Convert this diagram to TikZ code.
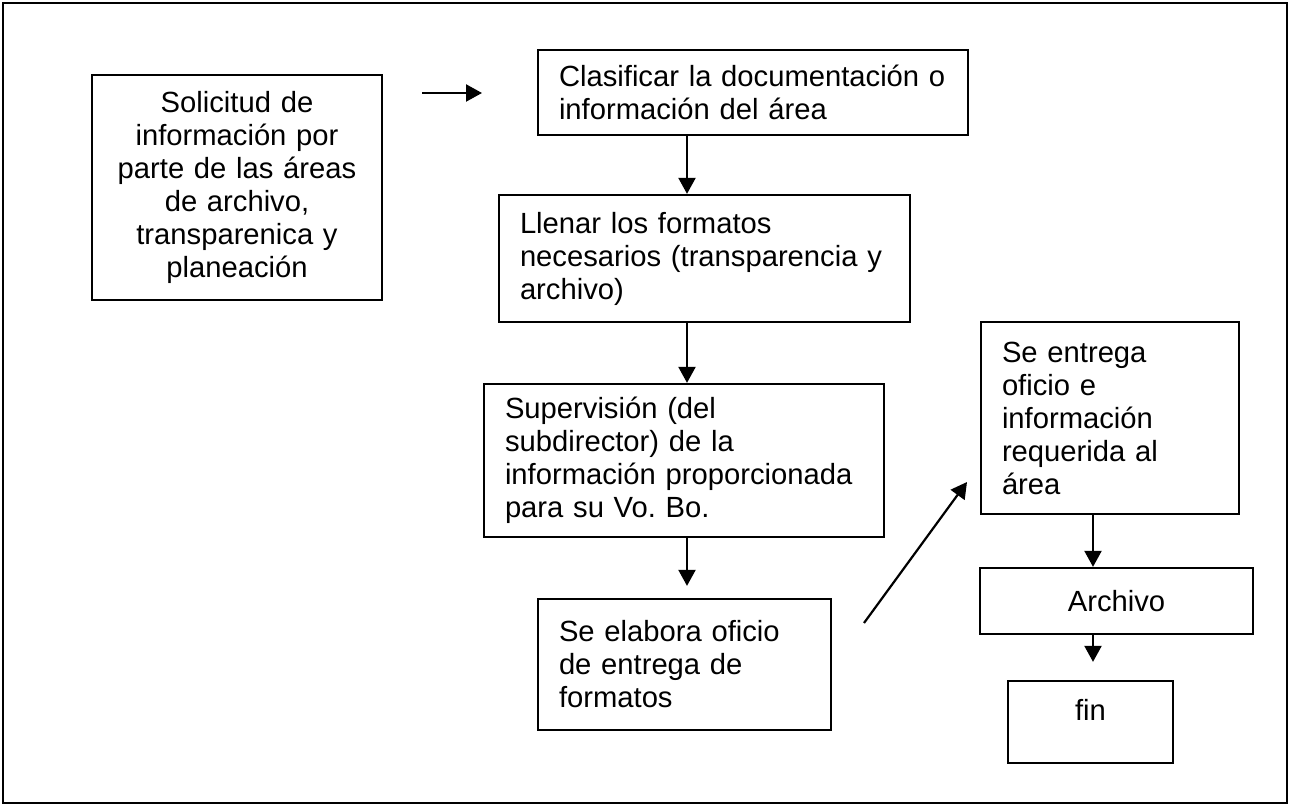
\documentclass[tikz,border=0pt]{standalone}
\usepackage{fontspec}
\setmainfont{Liberation Sans}
\usetikzlibrary{arrows.meta}
\begin{document}
\frenchspacing
\begin{tikzpicture}[x=0.5pt,y=-0.5pt,
  box/.style={draw=black, line width=1.15pt, inner sep=0pt, font=\fontsize{14.6pt}{16.5pt}\selectfont},
  arr/.style={line width=1.1pt, -{Triangle[length=8pt,width=8.5pt]}},
]
\useasboundingbox (0,0) rectangle (1290,806);
\node[draw, line width=1.4pt, minimum width=642pt, minimum height=400pt, inner sep=0pt] (frame) at (645,403) {};

\node[box, minimum width=145pt, minimum height=112.5pt, text width=136pt, align=center] (b1) at (237,187.5)
  {Solicitud de\\ información por\\ parte de las áreas\\ de archivo,\\ transparenica y\\ planeación};
\node[box, minimum width=215pt, minimum height=42.5pt, text width=194pt, align=left] (b2) at (753,92.5)
  {Clasificar la documentación o\\ información del área};
\node[box, minimum width=205.5pt, minimum height=63.5pt, text width=184.5pt, align=left] (b3) at (704.5,258.5)
  {Llenar los formatos\\ necesarios (transparencia y\\ archivo)};
\node[box, minimum width=200pt, minimum height=76.5pt, text width=179pt, align=left] (b4) at (684,460.5)
  {Supervisión (del\\ subdirector) de la\\ información proporcionada\\ para su Vo. Bo.};
\node[box, minimum width=146.5pt, minimum height=65.5pt, text width=125.5pt, align=left] (b5) at (684.5,664.5)
  {Se elabora oficio\\ de entrega de\\ formatos};
\node[box, minimum width=129pt, minimum height=96pt, text width=108pt, align=left] (b6) at (1110,418)
  {Se entrega\\ oficio e\\ información\\ requerida al\\ área};
\node[box, minimum width=136.5pt, minimum height=33pt, align=center] (b7) at (1116.5,601) {Archivo};
\node[box, minimum width=82.5pt, minimum height=41pt, align=center] (b8) at (1090.5,722) {fin\\[-4pt] \mbox{}};

\coordinate (colA) at (687,0);
\coordinate (colB) at (1093,0);
\coordinate (a1s) at (422,93);
\coordinate (a1e) at (482,93);
\coordinate (a5s) at (864,623);
\coordinate (a5e) at (967,482);

\draw[arr] (a1s) -- (a1e);
\draw[arr] (b2.south -| colA) -- (b3.north -| colA);
\draw[arr] (b3.south -| colA) -- (b4.north -| colA);
\draw[arr, shorten >=6pt] (b4.south -| colA) -- (b5.north -| colA);
\draw[arr] (a5s) -- (a5e);
\draw[arr] (b6.south -| colB) -- (b7.north -| colB);
\draw[arr, shorten >=9pt] (b7.south -| colB) -- (b8.north -| colB);
\end{tikzpicture}
\end{document}
